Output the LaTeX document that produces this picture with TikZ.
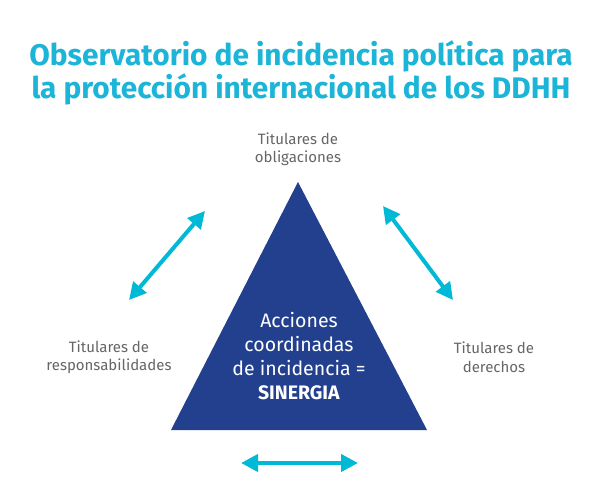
\documentclass[tikz,border=0pt]{standalone}
\usepackage{fontspec}
\setmainfont{Fira Sans}
\definecolor{titelcyan}{HTML}{1CB5D8}
\definecolor{pfeilcyan}{HTML}{00B9D6}
\definecolor{dreieckblau}{HTML}{23408E}
\definecolor{textgrau}{HTML}{666666}
\usetikzlibrary{arrows.meta, positioning}

\begin{document}
\begin{tikzpicture}[
    x=1pt, y=-1pt,
    titel/.style={align=center, text=titelcyan,
                  font=\fontsize{29.8}{26.5}\selectfont\bfseries},
    akteur/.style={align=center, text=textgrau,
                   font=\fontsize{15}{18.5}\selectfont},
    kern/.style={align=center, text=white,
                 font=\fontsize{19.5}{24}\selectfont},
    pfeil/.style={{Triangle[length=17pt, width=17pt]}-{Triangle[length=17pt, width=17pt]},
                  line width=4pt, draw=pfeilcyan}
  ]
  \useasboundingbox (0,0) rectangle (600,497);
  \fill[white] (0,0) rectangle (600,497);

  \node[titel] (title) at (301,73)
    {Observatorio de incidencia política para\\
     la protección internacional de los DDHH};

  % Dreieck
  \coordinate (apex) at (298,182);
  \coordinate (bl) at (171,430);
  \coordinate (br) at (427,430);
  \fill[dreieckblau] (apex) -- (br) -- (bl) -- cycle;
  \node[kern] (syn) at (299,356)
    {Acciones\\ coordinadas\\ de incidencia =\\ \textbf{SINERGIA}};

  % Akteure
  \node[akteur] (oblig) at (298,149) {Titulares de\\ obligaciones};
  \node[akteur] (resp)  at (109,357) {Titulares de\\ responsabilidades};
  \node[akteur] (dere)  at (494,357) {Titulares de\\ derechos};

  % Pfeile
  \coordinate (l1) at (129,300);
  \coordinate (l2) at (205,211);
  \coordinate (r1) at (383,206);
  \coordinate (r2) at (453,300);
  \coordinate (b1) at (241,463);
  \coordinate (b2) at (358,463);
  \draw[pfeil] (l1) -- (l2);
  \draw[pfeil] (r1) -- (r2);
  \draw[pfeil] (b1) -- (b2);
\end{tikzpicture}
\end{document}
